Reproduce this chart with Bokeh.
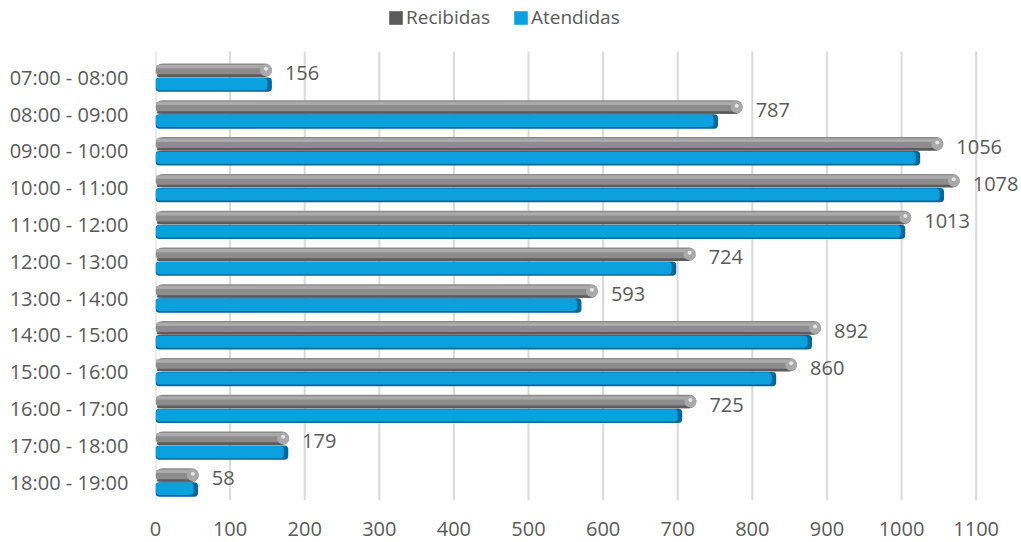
from bokeh.plotting import figure
from bokeh.models import ColumnDataSource, Range1d, Legend, LegendItem, FixedTicker
from bokeh.core.properties import value
from bokeh.embed import file_html
from bokeh.resources import INLINE

hours = ["07:00 - 08:00", "08:00 - 09:00", "09:00 - 10:00", "10:00 - 11:00",
         "11:00 - 12:00", "12:00 - 13:00", "13:00 - 14:00", "14:00 - 15:00",
         "15:00 - 16:00", "16:00 - 17:00", "17:00 - 18:00", "18:00 - 19:00"]
recibidas = [156, 787, 1056, 1078, 1013, 724, 593, 892, 860, 725, 179, 58]
atendidas = [156, 754, 1025, 1057, 1005, 698, 571, 880, 832, 706, 178, 57]
x_ticks = [0, 100, 200, 300, 400, 500, 600, 700, 800, 900, 1000, 1100]

FONT = "Open Sans"
TXT = "#595959"

n = len(hours)
ypos = [n - 1 - i for i in range(n)]          # first category on top

src = ColumnDataSource(dict(
    y=ypos,
    y_g=[y + 0.19 for y in ypos],
    y_ghi=[y + 0.29 for y in ypos],
    y_glo=[y + 0.045 for y in ypos],
    y_gsp=[y + 0.23 for y in ypos],
    y_b=[y - 0.2 for y in ypos],
    y_bin=[y - 0.185 for y in ypos],
    rec=recibidas,
    ate=atendidas,
    rec_cap=[r - 8 for r in recibidas],
    ate_in=[a - 6 for a in atendidas],
    rec_label=[str(r) for r in recibidas],
    zero=[0] * n,
))

p = figure(width=1021, height=542, output_backend="svg", toolbar_location=None,
           y_range=Range1d(-0.5, 13.087),
           x_range=Range1d(0, 1160.8),
           min_border_left=155, min_border_right=0,
           min_border_top=0, min_border_bottom=42)
p.outline_line_color = None
p.background_fill_color = "white"
p.border_fill_color = "white"

# vertical gridlines (stop below the legend, as in the reference)
grid_src = ColumnDataSource(dict(x=x_ticks, y0=[-0.5] * len(x_ticks), y1=[n - 0.3] * len(x_ticks)))
p.segment(x0="x", x1="x", y0="y0", y1="y1", source=grid_src, line_color="#d9d9d9", line_width=2)

# Recibidas (grey cylinder)
p.hbar(y="y_g", right="rec", left=0, height=0.37,
       source=src, fill_color="#8c8c8c", line_color=None, border_radius=7)
p.hbar(y="y_ghi", right="rec_cap", left=0.5, height=0.09,
       source=src, fill_color="#ababab", line_color=None, border_radius=3)
p.hbar(y="y_glo", right="rec_cap", left=2, height=0.07,
       source=src, fill_color="#5c5c5c", line_color=None, border_radius=2)
p.scatter(x="rec_cap", y="y_g", source=src, marker="circle",
          size=12, fill_color="#a9a9a9", line_color=None)
p.scatter(x="rec_cap", y="y_gsp", source=src, marker="circle",
          size=4, fill_color="#e6e6e6", line_color=None)

# Atendidas (blue bar)
p.hbar(y="y_b", right="ate", left=0, height=0.39,
       source=src, fill_color="#04679a", line_color=None, border_radius=4)
p.hbar(y="y_bin", right="ate_in", left=0.5, height=0.33,
       source=src, fill_color="#0aa1de", line_color=None, border_radius=4)

# data labels
p.text(x="rec", y="y_g", text="rec_label", source=src,
       x_offset=13, y_offset=3, text_baseline="middle", text_align="left",
       text_font=value(FONT), text_font_size="20px", text_color=TXT)

# legend swatches (zero-length bars, only used for the legend)
lg1 = p.hbar(y="y", left="zero", right="zero", height=0, source=src,
             fill_color="#5a5a5a", line_color=None)
lg2 = p.hbar(y="y", left="zero", right="zero", height=0, source=src,
             fill_color="#0aa1de", line_color=None)
legend = Legend(items=[LegendItem(label="Recibidas", renderers=[lg1]),
                       LegendItem(label="Atendidas", renderers=[lg2])],
                orientation="horizontal", location=(232, 470),
                glyph_width=17, glyph_height=17, label_standoff=2, spacing=22,
                padding=0, margin=0, border_line_color=None, background_fill_alpha=0,
                label_text_font=FONT, label_text_font_size="19px", label_text_color=TXT)
p.add_layout(legend, "center")

# axes
p.xaxis.ticker = FixedTicker(ticks=x_ticks)
p.xaxis.axis_line_color = None
p.xaxis.major_tick_line_color = None
p.xaxis.minor_tick_line_color = None
p.xaxis.major_label_standoff = 15
p.xaxis.major_label_text_font = FONT
p.xaxis.major_label_text_font_size = "20px"
p.xaxis.major_label_text_color = TXT

p.yaxis.ticker = FixedTicker(ticks=ypos)
p.yaxis.major_label_overrides = {y: h for y, h in zip(ypos, hours)}
p.yaxis.axis_line_color = None
p.yaxis.major_tick_line_color = None
p.yaxis.minor_tick_line_color = None
p.yaxis.major_label_standoff = 21
p.yaxis.major_label_text_font = FONT
p.yaxis.major_label_text_font_size = "20px"
p.yaxis.major_label_text_color = TXT

p.xgrid.grid_line_color = None
p.ygrid.grid_line_color = None

open("out.html", "w").write(file_html(p, INLINE))
